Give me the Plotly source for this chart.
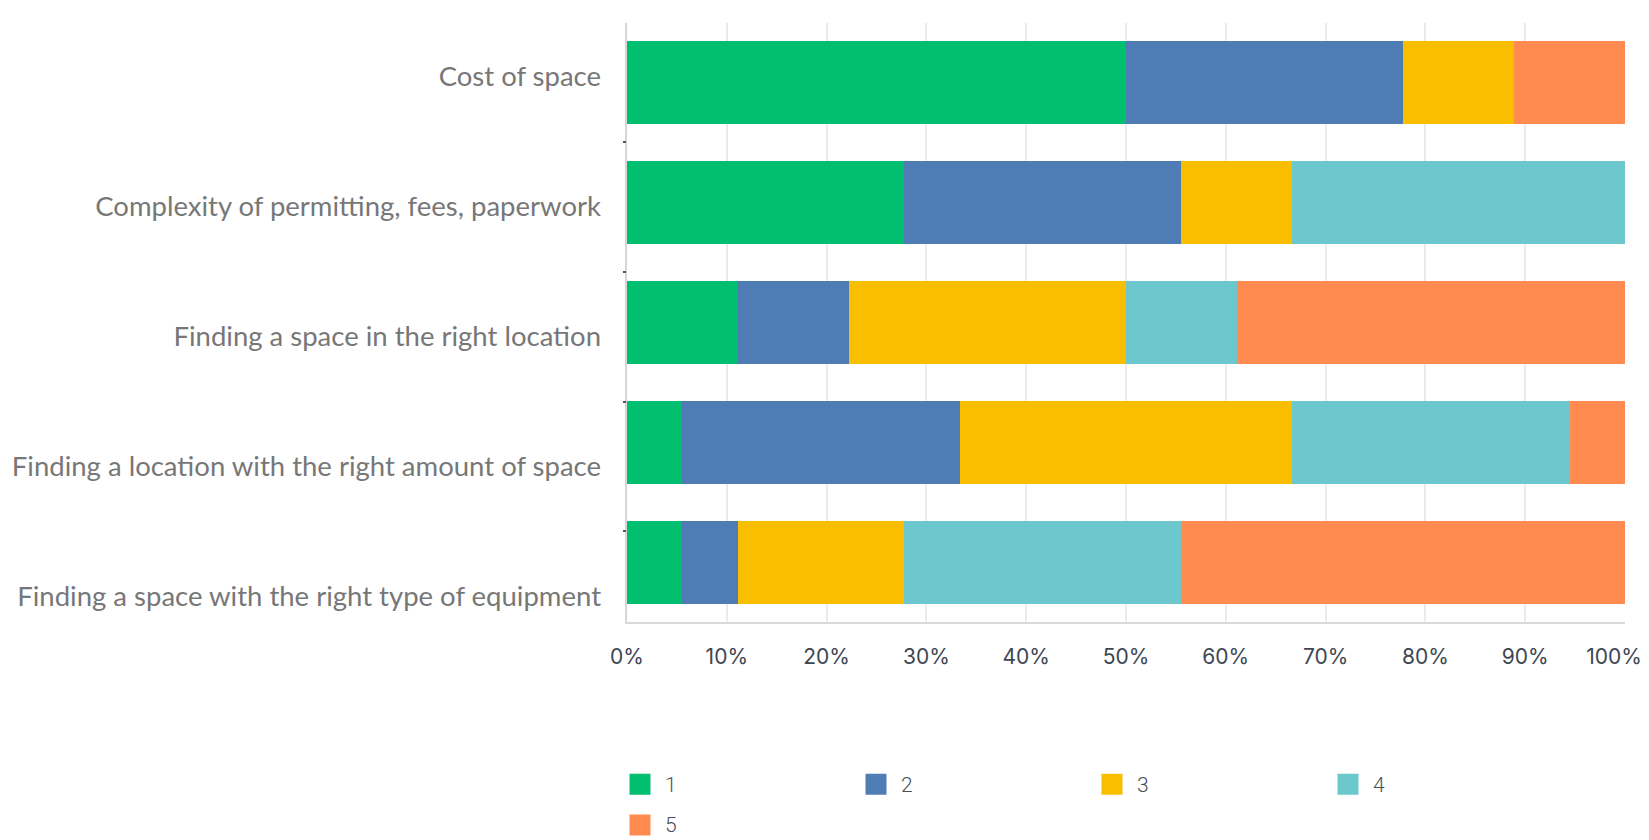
import plotly.graph_objects as go

categories = [
    "Cost of space",
    "Complexity of permitting, fees, paperwork",
    "Finding a space in the right location",
    "Finding a location with the right amount of space",
    "Finding a space with the right type of equipment",
]
series_names = ["1", "2", "3", "4", "5"]
colors = ["#02bf6f", "#507cb6", "#f9be00", "#6cc8cc", "#ff8b50"]

# percentages of respondents per rating
s1 = [50.0, 27.78, 11.11, 5.56, 5.56]
s2 = [27.78, 27.78, 11.11, 27.78, 5.56]
s3 = [11.11, 11.11, 27.78, 33.33, 16.67]
s4 = [0.0, 33.33, 11.11, 27.78, 27.78]
s5 = [11.11, 0.0, 38.89, 5.56, 44.44]
series = [s1, s2, s3, s4, s5]

tick_vals = [0, 10, 20, 30, 40, 50, 60, 70, 80, 90, 100]
tick_text = ["0%", "10%", "20%", "30%", "40%", "50%", "60%", "70%", "80%", "90%", "100%"]

fig = go.Figure()
for name, vals, col in zip(series_names, series, colors):
    fig.add_trace(go.Bar(
        y=categories, x=vals, name=name, orientation="h",
        marker=dict(color=col, line=dict(width=0)),
        showlegend=False,
    ))
# legend entries
for name, col in zip(series_names, colors):
    fig.add_trace(go.Scatter(
        x=[None], y=[None], mode="markers",
        name='<span style="font-size:21px;baseline-shift:4px">\u00a0' + name + '</span>',
        marker=dict(symbol="square", size=16, color=col,
                    line=dict(color=col, width=5)),
    ))
# category label axis (labels sit on their own axis, as in the original)
label_pos = list(range(len(categories)))
fig.add_trace(go.Scatter(
    x=[0] * len(categories), y=label_pos, yaxis="y2", mode="markers",
    marker=dict(opacity=0), showlegend=False, hoverinfo="skip",
))
# carrier for the last x tick label (pulled inside the page like the original)
fig.add_trace(go.Scatter(
    x=[tick_vals[-1]], y=[categories[0]], xaxis="x2", mode="markers",
    marker=dict(opacity=0), showlegend=False, hoverinfo="skip",
))

tickfont_x = dict(size=21, color="#3d4652", family="Inter, sans-serif")

fig.update_layout(
    barmode="stack",
    bargap=0.307,
    width=1641, height=832,
    margin=dict(l=619, r=24, t=15, b=218, autoexpand=False),
    plot_bgcolor="white", paper_bgcolor="white",
    font=dict(family="Lato, sans-serif"),
    legend=dict(
        orientation="h", xref="container", x=612 / 1641, xanchor="left",
        yref="container", y=(832 - 751) / 832, yanchor="top",
        entrywidth=191, entrywidthmode="pixels",
        font=dict(size=29, color="#4a4f57", family="Roboto, sans-serif", weight=300),
        itemclick=False, traceorder="normal",
    ),
    xaxis=dict(
        range=[0, 100], tickmode="array", tickvals=tick_vals,
        ticktext=tick_text[:-1] + [""], automargin=False,
        showgrid=True, gridcolor="#ebebeb", gridwidth=1.5,
        zeroline=False, showline=True, linecolor="#d9d9d9", linewidth=2,
        ticks="", ticklen=0, ticklabelstandoff=15,
        tickfont=tickfont_x,
    ),
    xaxis2=dict(
        overlaying="x", anchor="y", side="bottom", automargin=False,
        range=[0, 100], tickmode="array", tickvals=[tick_vals[-1]],
        ticktext=[tick_text[-1]], showgrid=False, zeroline=False,
        showline=True, linecolor="rgba(0,0,0,0)", linewidth=2,
        ticks="", ticklabelstandoff=15, ticklabelshift=-11,
        ticklabeloverflow="allow", tickfont=tickfont_x,
    ),
    yaxis=dict(
        categoryorder="array", categoryarray=categories, autorange="reversed",
        automargin=False,
        showline=True, linecolor="#d6d6d6", linewidth=2,
        showgrid=False, ticks="", showticklabels=False,
    ),
    yaxis2=dict(
        overlaying="y", anchor="x", side="left", automargin=False,
        range=[4.197, -0.414], tickmode="array",
        tickvals=label_pos, ticktext=categories,
        showgrid=False, zeroline=False, showline=False, ticks="",
        ticklabelstandoff=25,
        tickfont=dict(size=27.5, color="#777777", family="Lato, sans-serif"),
        minor=dict(tickmode="array", tickvals=[0.5, 1.5, 2.5, 3.5],
                   ticks="outside", ticklen=3, tickwidth=2,
                   tickcolor="#555555", showgrid=False),
    ),
)

fig.write_html("out.html")
